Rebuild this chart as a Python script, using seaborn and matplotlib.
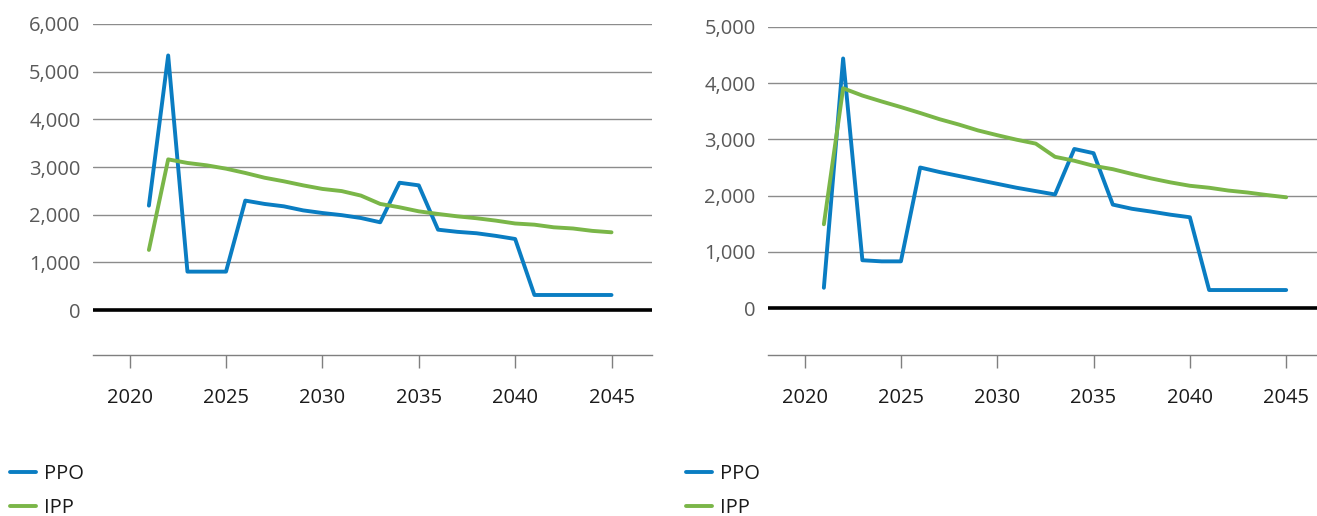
import pandas as pd
import matplotlib.pyplot as plt
import seaborn as sns
from matplotlib.ticker import FuncFormatter
from matplotlib.lines import Line2D

# Years on the x axis
years = list(range(2021, 2046))

# Left panel values
left_ppo = [2190, 5340, 805, 805, 805, 2295, 2225, 2175, 2090, 2035, 1990, 1930, 1840,
            2670, 2615, 1685, 1640, 1610, 1555, 1490, 315, 315, 315, 315, 315]
left_ipp = [1260, 3160, 3085, 3035, 2965, 2875, 2775, 2700, 2615, 2540, 2495, 2400, 2225,
            2155, 2070, 2015, 1965, 1925, 1875, 1815, 1790, 1735, 1710, 1660, 1630]

# Right panel values
right_ppo = [360, 4440, 850, 830, 830, 2500, 2420, 2350, 2280, 2210, 2140, 2080, 2020,
             2830, 2755, 1840, 1765, 1715, 1660, 1615, 320, 320, 320, 320, 320]
right_ipp = [1490, 3910, 3780, 3675, 3575, 3470, 3360, 3265, 3160, 3075, 2995, 2925, 2690,
             2620, 2530, 2470, 2385, 2305, 2235, 2175, 2140, 2090, 2055, 2010, 1970]

series_names = ['PPO', 'IPP']
colors = {'PPO': '#0A7DC2', 'IPP': '#7AB648'}
xticks = [2020, 2025, 2030, 2035, 2040, 2045]

sns.set_style("white")
plt.rcParams['font.family'] = ['Open Sans', 'DejaVu Sans']

W, H = 1317, 516
fig = plt.figure(figsize=(W / 100, H / 100), dpi=100)


def make_df(ppo, ipp):
    return pd.DataFrame({
        'year': years * 2,
        'value': ppo + ipp,
        'series': ['PPO'] * len(years) + ['IPP'] * len(years),
    })


panels = [
    # data, axes box (px), ylim, yticks, xlim, legend x
    (make_df(left_ppo, left_ipp), (93, 24, 652, 355), (-944, 6000),
     range(0, 6001, 1000), (2018.1, 2047.1), 10),
    (make_df(right_ppo, right_ipp), (768, 27, 1317, 355), (-836, 5000),
     range(0, 5001, 1000), (2018.1, 2046.6), 686),
]

for df, (x0, y0, x1, y1), ylim, yticks, xlim, leg_x in panels:
    ax = fig.add_axes([x0 / W, 1 - y1 / H, (x1 - x0) / W, (y1 - y0) / H])
    for t in yticks:
        if t != 0:
            ax.axhline(t, color='#8c8c8c', lw=1.0, zorder=1)
    ax.axhline(0, color='black', lw=2.6, zorder=2)
    sns.lineplot(data=df, x='year', y='value', hue='series', hue_order=series_names,
                 palette=colors, linewidth=2.8, legend=False, ax=ax, zorder=3)
    ax.set_ylim(*ylim)
    ax.set_xlim(*xlim)
    ax.set_yticks(list(yticks))
    ax.set_xticks(xticks)
    ax.yaxis.set_major_formatter(FuncFormatter(lambda v, p: f"{int(v):,}"))
    ax.set_xlabel("")
    ax.set_ylabel("")
    for s in ['top', 'right', 'left']:
        ax.spines[s].set_visible(False)
    ax.spines['bottom'].set_color('#7f7f7f')
    ax.spines['bottom'].set_linewidth(1.0)
    ax.tick_params(axis='x', direction='out', length=9.5, width=1.0, color='#7f7f7f',
                   pad=14, labelsize=14.5, labelcolor='#1a1a1a', bottom=True)
    ax.tick_params(axis='y', length=0, pad=9, labelsize=14.5, labelcolor='#595959')

    handles = [Line2D([], [], color=colors[n], lw=2.8) for n in series_names]
    fig.legend(handles, series_names, loc='upper left',
               bbox_to_anchor=(leg_x / W, 1 - 464 / H), frameon=False,
               fontsize=14.5, handlelength=1.3, handletextpad=0.4,
               labelspacing=0.68, borderpad=0, borderaxespad=0,
               labelcolor='#1a1a1a')

fig.savefig('out.png', dpi=100)
